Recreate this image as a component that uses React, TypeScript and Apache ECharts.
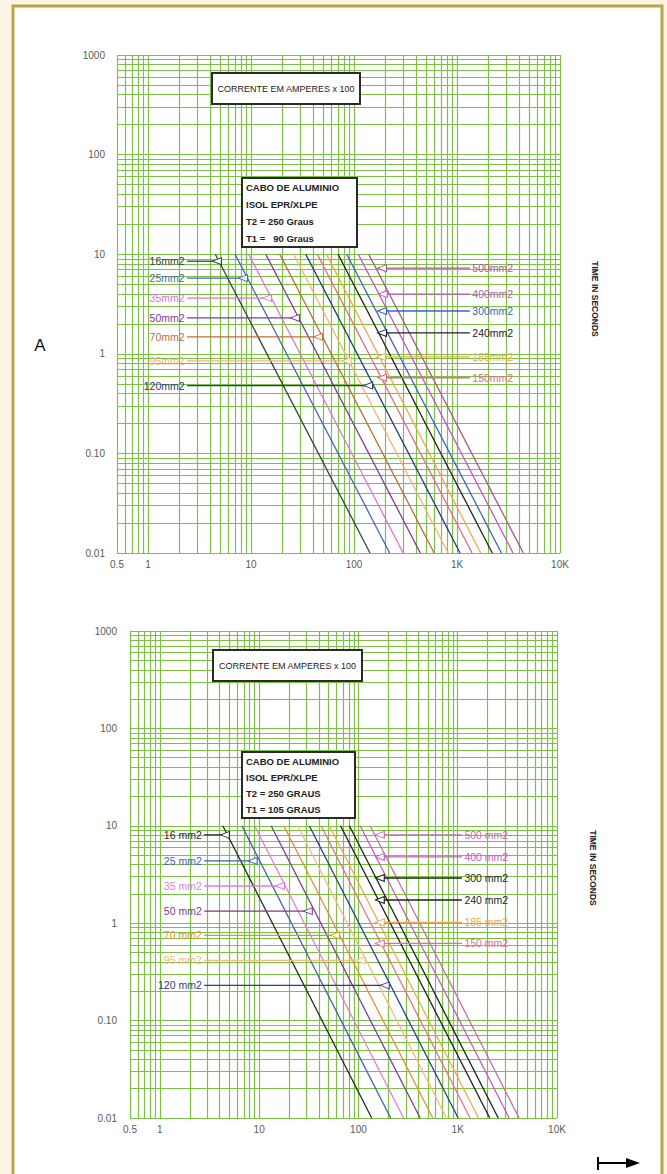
import React, { useEffect, useRef } from "react";
import * as echarts from "echarts";

// ---------- data ----------
const cableSizes = [16, 25, 35, 50, 70, 95, 120, 150, 185, 240, 300, 400, 500];

// Chart A (T1 = 90 Graus): current (x100 A) at t = 10 s and at t = 0.01 s
const topCurrentAt10s = [4.5, 7.0, 9.5, 13.9, 19, 26, 34, 44, 54, 70, 85, 110, 139];
const topCurrentAt001s = [143, 222, 300, 440, 600, 820, 1070, 1400, 1700, 2200, 2700, 3500, 4400];
const topCurveColors = ["#2d4a35", "#4666b8", "#d67ad6", "#7d3c98", "#b8703c", "#f2b27a", "#26387a", "#e46a8a", "#f0a84a", "#222222", "#3a64c4", "#c155c9", "#a8588e"];

// Chart B (T1 = 105 Graus)
const bottomCurrentAt10s = [4.3, 6.7, 9.0, 13.2, 17.7, 24.4, 32, 42, 51, 66, 81, 104, 131];
const bottomCurrentAt001s = [136, 211, 285, 418, 560, 770, 1010, 1330, 1620, 2100, 2560, 3300, 4150];
const bottomCurveColors = ["#1f2f1f", "#3f5fb5", "#e07fd8", "#7a3d96", "#e0903a", "#f4b886", "#2a3f86", "#e8708c", "#f0a850", "#1e1e1e", "#1e1e1e", "#c75ac8", "#c070b0"];

const curveTimeTop = 10;
const curveTimeBottom = 0.01;

// label callouts, chart A
const topLeftLabels = ["16mm2", "25mm2", "35mm2", "50mm2", "70mm2", "95mm2", "120mm2"];
const topLeftTimes = [8.5, 5.75, 3.63, 2.29, 1.48, 0.85, 0.48];
const topLeftArrowCurrents = [4.67, 8.36, 14.3, 26.7, 44.8, 85, 137];
const topLeftColors = ["#2d4a35", "#4666b8", "#d67ad6", "#7d3c98", "#b8703c", "#f2b27a", "#26387a"];
const topRightLabels = ["500mm2", "400mm2", "300mm2", "240mm2", "185mm2", "150mm2"];
const topRightTimes = [7.24, 3.98, 2.69, 1.62, 0.93, 0.575];
const topRightArrowCurrents = [187, 190, 187, 187, 183, 187];
const topRightColors = ["#a8588e", "#c155c9", "#3a64c4", "#222222", "#f0a84a", "#e46a8a"];

// label callouts, chart B
const bottomLeftLabels = ["16 mm2", "25 mm2", "35 mm2", "50 mm2", "70 mm2", "95 mm2", "120 mm2"];
const bottomLeftTimes = [8.07, 4.36, 2.41, 1.33, 0.75, 0.416, 0.23];
const bottomLeftArrowCurrents = [4.52, 8.6, 16.2, 30.9, 57.9, 105, 184];
const bottomLeftColors = ["#1f2f1f", "#3f5fb5", "#e07fd8", "#7a3d96", "#e0903a", "#f4b886", "#2a3f86"];
const bottomRightLabels = ["500 mm2", "400 mm2", "300 mm2", "240 mm2", "185 mm2", "150 mm2"];
const bottomRightTimes = [8.07, 4.79, 2.91, 1.73, 1.02, 0.62];
const bottomRightArrowCurrents = [164, 164, 164, 164, 164, 164];
const bottomRightColors = ["#c070b0", "#c75ac8", "#1e1e1e", "#1e1e1e", "#f0a850", "#e8708c"];

// axis ticks
const xTickValues = [0.5, 1, 10, 100, 1000, 10000];
const xTickLabels = ["0.5", "1", "10", "100", "1K", "10K"];
const yTickValues = [0.01, 0.1, 1, 10, 100, 1000];
const yTickLabels = ["0.01", "0.10", "1", "10", "100", "1000"];

const FONT = '"Liberation Sans", Arial, sans-serif';
const GRID_GREEN = "#7cc046";
const ARROW = "path://M0,5L10,0L10,10Z";

function gridValues(minV: number, maxV: number) {
  const out: number[] = [];
  for (let d = -3; d <= 4; d++) {
    for (let m = 1; m <= 9; m++) {
      const v = m * Math.pow(10, d);
      if (v >= minV * 0.999 && v <= maxV * 1.001) out.push(v);
    }
  }
  if (out.indexOf(minV) < 0) out.unshift(minV);
  return out;
}

function tickFormatter(vals: number[], labels: string[]) {
  return (v: number) => {
    let best = -1;
    let bd = 1e9;
    for (let k = 0; k < vals.length; k++) {
      const d = Math.abs(Math.log10(v) - Math.log10(vals[k]));
      if (d < bd) {
        bd = d;
        best = k;
      }
    }
    return bd < 0.01 ? labels[best] : "";
  };
}

function calloutLabel(text: string, color: string, position: string) {
  return {
    show: true,
    position,
    distance: 2,
    formatter: text,
    color,
    fontSize: 10.5,
    fontFamily: FONT,
  };
}

function chartSeries(
  idx: number,
  at10: number[],
  at001: number[],
  colors: string[],
  lLabels: string[],
  lTimes: number[],
  lArrows: number[],
  lColors: string[],
  lStart: number,
  rLabels: string[],
  rTimes: number[],
  rArrows: number[],
  rColors: string[],
  rEnd: number
) {
  const series: any[] = [];
  series.push({
    type: "line",
    xAxisIndex: idx,
    yAxisIndex: idx,
    data: [],
    silent: true,
    z: 1,
    markLine: {
      z: 1,
      silent: true,
      symbol: ["none", "none"],
      label: { show: false },
      emphasis: { disabled: true },
      lineStyle: { color: GRID_GREEN, width: 1.2, type: "solid", opacity: 1 },
      data: [
        ...gridValues(0.5, 10000).map((v) => ({ xAxis: v })),
        ...gridValues(0.01, 1000).map((v) => ({ yAxis: v })),
      ],
    },
  });
  for (let i = 0; i < cableSizes.length; i++) {
    series.push({
      type: "line",
      name: String(cableSizes[i]),
      xAxisIndex: idx,
      yAxisIndex: idx,
      data: [
        [at10[i], curveTimeTop],
        [at001[i], curveTimeBottom],
      ],
      symbol: "none",
      silent: true,
      z: 3,
      lineStyle: { color: colors[i], width: 1.3 },
    });
  }
  for (let i = 0; i < lLabels.length; i++) {
    series.push({
      type: "line",
      xAxisIndex: idx,
      yAxisIndex: idx,
      silent: true,
      z: 4,
      showSymbol: true,
      lineStyle: { color: lColors[i], width: 1.3 },
      itemStyle: { color: "#ffffff", borderColor: lColors[i], borderWidth: 1 },
      label: { show: false },
      data: [
        {
          value: [lStart, lTimes[i]],
          symbol: "circle",
          symbolSize: 0.1,
          label: calloutLabel(lLabels[i], lColors[i], "left"),
        },
        { value: [lArrows[i], lTimes[i]], symbol: ARROW, symbolSize: [9, 7] },
      ],
    });
  }
  for (let i = 0; i < rLabels.length; i++) {
    series.push({
      type: "line",
      xAxisIndex: idx,
      yAxisIndex: idx,
      silent: true,
      z: 4,
      showSymbol: true,
      lineStyle: { color: rColors[i], width: 1.3 },
      itemStyle: { color: "#ffffff", borderColor: rColors[i], borderWidth: 1 },
      label: { show: false },
      data: [
        { value: [rArrows[i], rTimes[i]], symbol: ARROW, symbolSize: [9, 7] },
        {
          value: [rEnd, rTimes[i]],
          symbol: "circle",
          symbolSize: 0.1,
          label: calloutLabel(rLabels[i], rColors[i], "right"),
        },
      ],
    });
  }
  return series;
}

function xAxisDef(idx: number) {
  return {
    type: "log",
    logBase: 10,
    gridIndex: idx,
    min: 0.5,
    max: 10000,
    axisLine: { show: false },
    axisTick: { show: false },
    splitLine: { show: false },
    axisLabel: {
      margin: 6,
      color: "#5a5a5a",
      fontSize: 10,
      fontFamily: FONT,
      formatter: tickFormatter(xTickValues, xTickLabels),
    },
  };
}

function yAxisDef(idx: number, margin: number) {
  return {
    type: "log",
    logBase: 10,
    gridIndex: idx,
    min: 0.01,
    max: 1000,
    axisLine: { show: false },
    axisTick: { show: false },
    splitLine: { show: false },
    axisLabel: {
      margin,
      color: "#5a5a5a",
      fontSize: 10,
      fontFamily: FONT,
      formatter: tickFormatter(yTickValues, yTickLabels),
    },
  };
}

function boxGraphics(x: number, y: number, w: number, h: number) {
  return {
    type: "rect",
    shape: { x, y, width: w, height: h },
    style: { fill: "#ffffff", stroke: "#2a2a2a", lineWidth: 2 },
    z: 100,
  };
}

function textG(text: string, x: number, y: number, opts: any = {}) {
  return {
    type: "text",
    x,
    y,
    z: 101,
    rotation: opts.rotation || 0,
    style: {
      text,
      fill: opts.fill || "#222",
      fontSize: opts.fontSize || 10,
      fontWeight: opts.fontWeight || "normal",
      fontFamily: FONT,
      align: opts.align || "left",
      verticalAlign: "middle",
    },
  };
}

export default function App() {
  const ref = useRef<HTMLDivElement>(null);
  useEffect(() => {
    if (!ref.current) return;
    const chart = echarts.init(ref.current, undefined, { renderer: "svg" });
    const series = [
      ...chartSeries(
        0,
        topCurrentAt10s,
        topCurrentAt001s,
        topCurveColors,
        topLeftLabels,
        topLeftTimes,
        topLeftArrowCurrents,
        topLeftColors,
        2.4,
        topRightLabels,
        topRightTimes,
        topRightArrowCurrents,
        topRightColors,
        1330
      ),
      ...chartSeries(
        1,
        bottomCurrentAt10s,
        bottomCurrentAt001s,
        bottomCurveColors,
        bottomLeftLabels,
        bottomLeftTimes,
        bottomLeftArrowCurrents,
        bottomLeftColors,
        2.8,
        bottomRightLabels,
        bottomRightTimes,
        bottomRightArrowCurrents,
        bottomRightColors,
        1100
      ),
    ];
    const option: any = {
      animation: false,
      backgroundColor: "#fcf4e4",
      grid: [
        { left: 117, top: 55, width: 443, height: 498, containLabel: false, outerBoundsMode: "none" },
        { left: 130, top: 631, width: 427, height: 487, containLabel: false, outerBoundsMode: "none" },
      ],
      xAxis: [xAxisDef(0), xAxisDef(1)],
      yAxis: [yAxisDef(0, 12), yAxisDef(1, 13)],
      series,
      graphic: [
        {
          type: "rect",
          z: -10,
          silent: true,
          shape: { x: 13, y: 6, width: 649, height: 1180 },
          style: { fill: "#ffffff", stroke: "#b7a844", lineWidth: 3 },
        },
        textG("A", 40, 345, { fontSize: 17, fill: "#111", align: "center" }),
        // chart A boxes
        boxGraphics(212, 73, 148, 31),
        textG("CORRENTE EM AMPERES x 100", 286, 89, { fontSize: 9, align: "center" }),
        boxGraphics(242, 178, 115, 69),
        textG("CABO DE ALUMINIO", 246, 187, { fontSize: 9.5, fontWeight: "bold" }),
        textG("ISOL EPR/XLPE", 246, 204, { fontSize: 9.5, fontWeight: "bold" }),
        textG("T2 = 250 Graus", 246, 221, { fontSize: 9.5, fontWeight: "bold" }),
        textG("T1 =   90 Graus", 246, 238, { fontSize: 9.5, fontWeight: "bold" }),
        textG("TIME IN SECONDS", 595, 299, { fontSize: 8.5, fontWeight: "bold", align: "center", rotation: -Math.PI / 2 }),
        // chart B boxes
        boxGraphics(213, 650, 149, 31),
        textG("CORRENTE EM AMPERES x 100", 287.5, 666, { fontSize: 9, align: "center" }),
        boxGraphics(242, 752, 113, 66),
        textG("CABO DE ALUMINIO", 246, 761, { fontSize: 9.5, fontWeight: "bold" }),
        textG("ISOL EPR/XLPE", 246, 777, { fontSize: 9.5, fontWeight: "bold" }),
        textG("T2 = 250 GRAUS", 246, 793, { fontSize: 9.5, fontWeight: "bold" }),
        textG("T1 = 105 GRAUS", 246, 809, { fontSize: 9.5, fontWeight: "bold" }),
        textG("TIME IN SECONDS", 593, 868, { fontSize: 8.5, fontWeight: "bold", align: "center", rotation: -Math.PI / 2 }),
        // arrow at bottom right
        {
          type: "line",
          shape: { x1: 598, y1: 1157, x2: 598, y2: 1170 },
          style: { stroke: "#000", lineWidth: 2 },
        },
        {
          type: "line",
          shape: { x1: 598, y1: 1163, x2: 628, y2: 1163 },
          style: { stroke: "#000", lineWidth: 2 },
        },
        {
          type: "polygon",
          shape: { points: [[626, 1158], [640, 1163], [626, 1168]] },
          style: { fill: "#000" },
        },
      ],
    };
    chart.setOption(option);
    return () => chart.dispose();
  }, []);
  return <div ref={ref} style={{ position: "absolute", left: 0, top: 0, width: 667, height: 1174 }} />;
}
